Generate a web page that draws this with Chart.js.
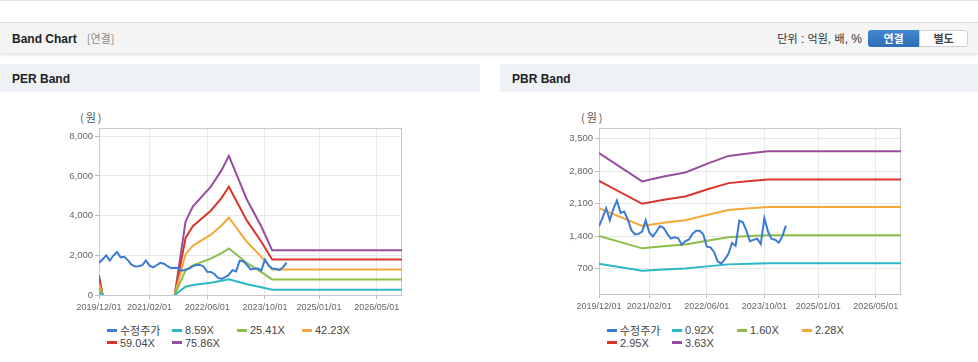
<!DOCTYPE html>
<html>
<head>
<meta charset="utf-8">
<script src="https://cdn.jsdelivr.net/npm/chart.js@4.4.0/dist/chart.umd.min.js"></script>
<style>
body{margin:0;width:978px;height:362px;position:relative;overflow:hidden;background:#fff;
  font-family:'Liberation Sans',Arial,'Noto Sans CJK KR',sans-serif;color:#222;}
.topline{position:absolute;left:0;top:0;width:978px;height:1px;background:#e4e4e4;}
.head{position:absolute;left:0;top:22px;width:978px;height:30px;background:#f4f4f4;
  border-top:1px solid #dedede;box-shadow:0 2px 3px rgba(0,0,0,0.13);}
.head .t{position:absolute;left:12px;top:8px;font-size:12px;font-weight:bold;line-height:14px;}
.head .t span{color:#8a8a8a;font-weight:normal;margin-left:10px;font-family:'Noto Sans CJK KR',sans-serif;font-size:11px;}
.unit{position:absolute;right:116px;top:8px;font-size:12px;line-height:14px;color:#333;}
.unit span{font-family:'Noto Sans CJK KR',sans-serif;font-size:11px;}
.btn{position:absolute;top:7px;height:17px;font-size:11px;line-height:17px;font-weight:bold;text-align:center;
  font-family:'Noto Sans CJK KR',sans-serif;box-sizing:border-box;}
.b1{left:868px;width:51px;background:linear-gradient(#4388d2,#2c6db6);color:#fff;border-radius:3px 0 0 3px;}
.b2{left:919px;width:49px;background:#fff;color:#444;border:1px solid #cfcfcf;border-radius:0 3px 3px 0;line-height:15px;}
.ph{position:absolute;top:64px;height:28px;background:#eef1f6;}
.ph div{position:absolute;left:12px;top:8px;font-size:12px;font-weight:bold;line-height:14px;}
canvas{position:absolute;top:92px;}
.ytitle{position:absolute;top:110px;font-size:11px;color:#555;font-family:'Noto Sans CJK KR',sans-serif;line-height:14px;letter-spacing:2px;}
.legend{position:absolute;top:324px;display:grid;grid-template-columns:65px 65px 65px 65px;grid-auto-rows:12.5px;
  font-size:11px;color:#444;}
.legend div{display:flex;align-items:center;white-space:nowrap;}
.legend i{display:inline-block;width:10px;height:3px;margin-right:3px;}
</style>
</head>
<body>
<div class="topline"></div>
<div class="head">
  <div class="t">Band Chart<span>[연결]</span></div>
  <div class="unit"><span>단위</span> : <span>억원</span>, <span>배</span>, %</div>
  <div class="btn b1">연결</div>
  <div class="btn b2">별도</div>
</div>
<div class="ph" style="left:0;width:480px;"><div>PER Band</div></div>
<div class="ph" style="left:500px;width:478px;"><div>PBR Band</div></div>

<div class="ytitle" style="left:80px;">(원)</div>
<div class="ytitle" style="left:581px;">(원)</div>
<canvas id="per" width="480" height="228" style="left:0;"></canvas>
<canvas id="pbr" width="478" height="228" style="left:500px;"></canvas>
<div class="legend" id="perLegend" style="left:107px;"></div>
<div class="legend" id="pbrLegend" style="left:607px;"></div>

<script>
// x axis tick labels and range
let tickDates = ['2019/12/01','2021/02/01','2022/06/01','2023/10/01','2025/01/01','2026/05/01'];
let axisStart = '2019/12/01';
let axisEnd = '2026/12/01';

// 수정주가 (monthly, from 2019/12)
let priceStart = '2019/12/01';
let price = [1612,1800,2000,1740,1990,2170,1900,1930,1760,1530,1440,1450,1500,1741,1480,1396,
  1500,1620,1576,1450,1350,1375,1360,1217,1290,1330,1450,1518,1518,1440,1175,1160,1060,860,
  808,900,1023,1253,1190,1734,1700,1520,1290,1320,1346,1230,1791,1500,1340,1324,1260,1400,1626];

// PER band
let perNames = ['8.59X','25.41X','42.23X','59.04X','75.86X'];
let perDates = ['2019/12/01','2020/01/01','2020/09/01','2021/09/01','2021/12/01','2022/02/01',
  '2022/07/01','2022/10/01','2022/12/01','2023/05/01','2023/09/01','2023/12/01','2026/12/01'];
let per859  = [113, 0, null, 0, 419, 504, 618, 713, 795, 545, 391, 270, 270];
let per2541 = [335, 0, null, 0, 1240, 1492, 1830, 2109, 2350, 1614, 1156, 785, 785];
let per4223 = [557, 0, null, 0, 2061, 2479, 3041, 3505, 3906, 2682, 1921, 1290, 1290];
let per5904 = [779, 0, null, 0, 2881, 3466, 4251, 4900, 5461, 3749, 2686, 1795, 1795];
let per7586 = [1000, 0, null, 0, 3702, 4453, 5462, 6296, 7017, 4817, 3452, 2250, 2250];
let perYTicks = [0, 2000, 4000, 6000, 8000];

// PBR band
let pbrNames = ['0.92X','1.60X','2.28X','2.95X','3.63X'];
let pbrDates = ['2019/12/01','2020/12/01','2021/06/01','2021/12/01','2022/06/01','2022/12/01',
  '2023/06/01','2023/11/01','2026/12/01'];
let pbr092 = [809, 654, 681, 703, 750, 793, 808, 818, 818];
let pbr160 = [1406, 1138, 1184, 1222, 1304, 1379, 1405, 1422, 1422];
let pbr228 = [2004, 1621, 1687, 1742, 1858, 1965, 2002, 2027, 2027];
let pbr295 = [2593, 2097, 2183, 2254, 2404, 2543, 2590, 2623, 2623];
let pbr363 = [3191, 2581, 2686, 2773, 2958, 3129, 3187, 3227, 3227];
let pbrYTicks = [700, 1400, 2100, 2800, 3500];

let colors = ['#3b7bd4','#29b8c8','#8cbd4a','#f5a838','#d8362b','#974e9f'];

function toMonth(s) {
    const [y, m, d] = s.split('/').map(Number);
    return (y - 2019) * 12 + (m - 12) + (d - 1) / 30;
}

function pts(dates, vals) {
    return vals.map((v, i) => ({x: toMonth(dates[i]), y: v}));
}

const priceX = toMonth(priceStart);
const pricePts = price.map((v, i) => ({x: priceX + i, y: v}));

// grey frame round the plot area
const frame = {
    id: 'frame',
    beforeDatasetsDraw(chart) {
        const {ctx, chartArea: a} = chart;
        ctx.save();
        ctx.strokeStyle = '#c8c8c8';
        ctx.lineWidth = 1;
        ctx.strokeRect(a.left + 0.5, a.top + 0.5, a.right - a.left - 1, a.bottom - a.top);
        ctx.restore();
    }
};

function makeChart(id, names, dates, bands, yMin, yMax, yTicks, xH) {
    const datasets = [{label: '수정주가', data: pricePts, borderColor: colors[0]}];
    bands.forEach((b, i) => datasets.push({label: names[i], data: pts(dates, b), borderColor: colors[i + 1]}));
    datasets.forEach(d => { d.borderWidth = 2; d.pointRadius = 0; d.tension = 0; d.spanGaps = false; d.fill = false; });

    const fam = "'Liberation Sans',Arial,sans-serif";
    const chart = new Chart(document.getElementById(id).getContext('2d'), {
        type: 'line',
        data: {datasets: datasets},
        options: {
            responsive: false,
            animation: false,
            devicePixelRatio: 1,
            layout: {padding: {left: 59, right: id == 'per' ? 78 : 77, top: 36, bottom: 0}},
            scales: {
                x: {
                    type: 'linear',
                    min: toMonth(axisStart),
                    max: toMonth(axisEnd),
                    afterBuildTicks: s => { s.ticks = tickDates.map(d => ({value: toMonth(d)})); },
                    afterFit: s => { s.height = xH; },
                    ticks: {autoSkip: false, maxRotation: 0, padding: 3, color: '#666', font: {size: 9, family: fam},
                        callback: (v, i) => tickDates[i]},
                    grid: {color: '#e9e9e9', tickLength: 4, tickColor: '#bdbdbd'},
                    border: {color: '#c8c8c8'}
                },
                y: {
                    min: yMin,
                    max: yMax,
                    afterBuildTicks: s => { s.ticks = yTicks.map(v => ({value: v})); },
                    afterFit: s => { s.width = 40; },
                    ticks: {padding: 2, color: '#666', font: {size: 9.5, family: fam},
                        callback: v => v.toLocaleString('en-US')},
                    grid: {color: '#e9e9e9', tickLength: 4, tickColor: '#bdbdbd'},
                    border: {color: '#c8c8c8'}
                }
            },
            plugins: {
                legend: {display: false},
                tooltip: {enabled: false}
            }
        },
        plugins: [frame]
    });

    // legend in 4 fixed columns like the original page
    const box = document.getElementById(id + 'Legend');
    chart.data.datasets.forEach(d => {
        const item = document.createElement('div');
        item.innerHTML = '<i style="background:' + d.borderColor + '"></i>' + d.label;
        box.appendChild(item);
    });
    return chart;
}

makeChart('per', perNames, perDates, [per859, per2541, per4223, per5904, per7586], 0, 8420, perYTicks, 25);
makeChart('pbr', pbrNames, pbrDates, [pbr092, pbr160, pbr228, pbr295, pbr363], 155, 3730, pbrYTicks, 26);
</script>
</body>
</html>
